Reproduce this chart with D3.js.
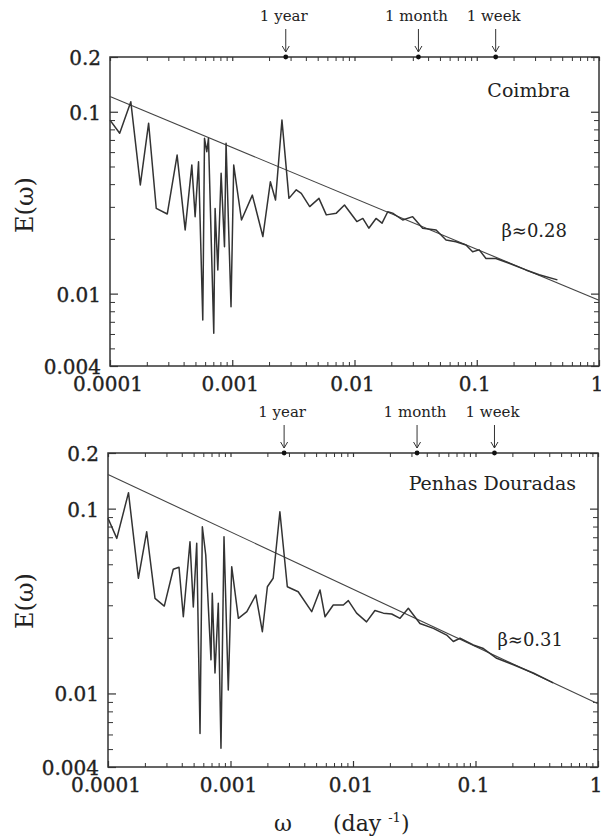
<!DOCTYPE html>
<html>
<head>
<meta charset="utf-8">
<script src="https://cdn.jsdelivr.net/npm/d3@7"></script>
<style>
  body { margin: 0; background: #fff; }
  svg { display: block; }
  text { font-family: "DejaVu Serif", "Liberation Serif", serif; fill: #222; }
  text.xlab, text.ylab { stroke: #222; stroke-width: 0.35; }
</style>
</head>
<body>
<script>
// spectra, E(omega) vs omega (day^-1)
const freqCoimbra = [0.0001, 0.000120, 0.000148, 0.000177, 0.000207, 0.000239, 0.000294, 0.000354, 0.000412, 0.000467,
  0.000497, 0.000530, 0.000574, 0.000593, 0.000619, 0.000639, 0.000706, 0.000724, 0.000762, 0.000811,
  0.000864, 0.000890, 0.000977, 0.001028, 0.00119, 0.00146, 0.00178, 0.00205, 0.00226, 0.00255,
  0.00291, 0.00334, 0.00367, 0.00430, 0.00512, 0.00588, 0.00710, 0.00828, 0.01045, 0.0117,
  0.0131, 0.0150, 0.0168, 0.0187, 0.0205, 0.0248, 0.0299, 0.0361, 0.0465, 0.0561,
  0.0676, 0.0817, 0.0925, 0.1047, 0.119, 0.1435, 0.184, 0.252, 0.324, 0.457];
const energyCoimbra = [0.090, 0.0762, 0.1135, 0.0396, 0.0865, 0.0294, 0.0274, 0.0578, 0.0224, 0.0509,
  0.0265, 0.0531, 0.00716, 0.0714, 0.0603, 0.0714, 0.00605, 0.0294, 0.0135, 0.0459,
  0.0181, 0.0671, 0.00848, 0.0509, 0.0254, 0.0348, 0.0206, 0.0412, 0.0327, 0.090,
  0.0334, 0.0372, 0.0356, 0.0301, 0.0334, 0.0271, 0.0277, 0.0307, 0.0249, 0.0259,
  0.0229, 0.0259, 0.0244, 0.0282, 0.0277, 0.0254, 0.0265, 0.0229, 0.0224, 0.0197,
  0.0193, 0.0185, 0.0170, 0.0174, 0.0156, 0.0156, 0.0147, 0.0135, 0.0127, 0.0119];

const freqPenhas = [0.0001, 0.000118, 0.000147, 0.000177, 0.000207, 0.000242, 0.000288, 0.000341, 0.000380, 0.000412,
  0.000467, 0.000497, 0.000530, 0.000564, 0.000589, 0.000628, 0.000693, 0.000710, 0.000747, 0.000795,
  0.000836, 0.000885, 0.000959, 0.001023, 0.00116, 0.00136, 0.00161, 0.00182, 0.00200, 0.00223,
  0.00253, 0.00291, 0.00357, 0.00460, 0.00538, 0.00591, 0.00690, 0.00834, 0.00916, 0.0107,
  0.0129, 0.0151, 0.0177, 0.0207, 0.0242, 0.0283, 0.0352, 0.0453, 0.0582, 0.0659,
  0.0747, 0.0959, 0.116, 0.149, 0.204, 0.296, 0.431];
const energyPenhas = [0.0887, 0.0690, 0.122, 0.0420, 0.0750, 0.0327, 0.0297, 0.0470, 0.0482, 0.0260,
  0.0662, 0.0294, 0.0649, 0.00608, 0.0798, 0.0561, 0.0152, 0.0348, 0.0129, 0.0308,
  0.00505, 0.0705, 0.01044, 0.0485, 0.0255, 0.0277, 0.0341, 0.0216, 0.0378, 0.0420,
  0.0962, 0.0378, 0.0355, 0.0277, 0.0363, 0.0260, 0.0301, 0.0301, 0.0318, 0.0272,
  0.0244, 0.0281, 0.0272, 0.0269, 0.0255, 0.0289, 0.0239, 0.0225, 0.0207, 0.0191,
  0.0199, 0.0183, 0.0175, 0.0155, 0.0143, 0.0129, 0.0114];

// power-law fits E = c * omega^-beta
const stationNames = ['Coimbra', 'Penhas Douradas'];
const betaValues = [0.28, 0.31];
const fitCoefs = [0.0092, 0.0088];

const xMajorTicks = [0.0001, 0.001, 0.01, 0.1, 1];
const xTickLabels = ['0.0001', '0.001', '0.01', '0.1', '1'];
const yMajorTicks = [0.004, 0.01, 0.1, 0.2];
const yTickLabels = ['0.004', '0.01', '0.1', '0.2'];

const periodLabels = ['1 year', '1 month', '1 week'];
const periodFreqs = [1 / 365, 1 / 30, 1 / 7];

const W = 601, H = 839;
const panels = [
    { top: 57, bottom: 366, left: 110, right: 599, freq: freqCoimbra, energy: energyCoimbra,
      nameX: 570, nameY: 97, betaX: 567, betaY: 237, eLabelY: 205 },
    { top: 453, bottom: 767, left: 108, right: 598, freq: freqPenhas, energy: energyPenhas,
      nameX: 576, nameY: 490, betaX: 563, betaY: 646, eLabelY: 601 }
];

const svg = d3.select('body').append('svg')
    .attr('width', W)
    .attr('height', H);

svg.append('rect').attr('width', W).attr('height', H).attr('fill', '#fff');

const isMajor = (v, majors) => majors.some(m => Math.abs(m - v) / m < 1e-6);

panels.forEach((p, i) => {
    const x = d3.scaleLog().domain([0.0001, 1]).range([p.left, p.right]);
    const y = d3.scaleLog().domain([0.004, 0.2]).range([p.bottom, p.top]);
    const g = svg.append('g').classed('panel', true);

    const xTicks = x.ticks();
    const yTicks = y.ticks();

    const styleAxis = (sel, majors) => {
        sel.select('.domain').remove();
        sel.selectAll('.tick line')
            .attr('stroke', '#333')
            .attr('stroke-width', 1);
        sel.selectAll('.tick text').remove();
        sel.selectAll('.tick')
            .filter(d => isMajor(d, majors))
            .select('line')
            .attr('stroke-width', 1.2);
    };

    // inward ticks on all four sides
    const bottomAxis = g.append('g')
        .attr('transform', `translate(0,${p.bottom})`)
        .call(d3.axisBottom(x).tickValues(xTicks).tickSize(-4));
    styleAxis(bottomAxis, xMajorTicks);
    bottomAxis.selectAll('.tick').filter(d => isMajor(d, xMajorTicks)).select('line').attr('y2', -6);

    const topAxis = g.append('g')
        .attr('transform', `translate(0,${p.top})`)
        .call(d3.axisTop(x).tickValues(xTicks).tickSize(-4));
    styleAxis(topAxis, xMajorTicks);

    const leftAxis = g.append('g')
        .attr('transform', `translate(${p.left},0)`)
        .call(d3.axisLeft(y).tickValues(yTicks).tickSize(-5));
    styleAxis(leftAxis, yMajorTicks);
    leftAxis.selectAll('.tick').filter(d => isMajor(d, yMajorTicks)).select('line').attr('x2', 8);

    const rightAxis = g.append('g')
        .attr('transform', `translate(${p.right},0)`)
        .call(d3.axisRight(y).tickValues(yTicks).tickSize(-5));
    styleAxis(rightAxis, yMajorTicks);
    rightAxis.selectAll('.tick').filter(d => isMajor(d, yMajorTicks)).select('line').attr('x2', -8);

    // frame
    g.append('rect')
        .attr('x', p.left)
        .attr('y', p.top)
        .attr('width', p.right - p.left)
        .attr('height', p.bottom - p.top)
        .attr('fill', 'none')
        .attr('stroke', '#333')
        .attr('stroke-width', 1.5);

    // tick labels
    g.selectAll('text.xlab')
        .data(xMajorTicks)
        .enter()
        .append('text')
        .classed('xlab', true)
        .attr('x', d => x(d) - 2)
        .attr('y', p.bottom + 25)
        .attr('text-anchor', 'middle')
        .attr('font-size', 20)
        .text((d, k) => xTickLabels[k]);

    g.selectAll('text.ylab')
        .data(yMajorTicks)
        .enter()
        .append('text')
        .classed('ylab', true)
        .attr('x', p.left - 9)
        .attr('y', d => y(d) + 8)
        .attr('text-anchor', 'end')
        .attr('font-size', 20)
        .text((d, k) => yTickLabels[k]);

    // fit line
    const fitEnds = x.domain().map(w => [w, fitCoefs[i] * Math.pow(w, -betaValues[i])]);
    g.append('path')
        .datum(fitEnds)
        .attr('d', d3.line().x(d => x(d[0])).y(d => y(d[1])))
        .attr('fill', 'none')
        .attr('stroke', '#444')
        .attr('stroke-width', 1.1);

    // spectrum
    const pts = p.freq.map((f, k) => [f, p.energy[k]]);
    g.append('path')
        .datum(pts)
        .attr('d', d3.line().x(d => x(d[0])).y(d => y(d[1])))
        .attr('fill', 'none')
        .attr('stroke', '#333')
        .attr('stroke-width', 1.5)
        .attr('stroke-linejoin', 'round');

    // period markers above the top axis
    const marks = g.selectAll('g.mark')
        .data(periodFreqs)
        .enter()
        .append('g')
        .classed('mark', true)
        .attr('transform', d => `translate(${x(d)},${p.top})`);
    marks.append('text')
        .attr('x', -2)
        .attr('y', -36)
        .attr('text-anchor', 'middle')
        .attr('font-size', 15)
        .text((d, k) => periodLabels[k]);
    marks.append('line')
        .attr('y1', -28)
        .attr('y2', -5)
        .attr('stroke', '#333')
        .attr('stroke-width', 1);
    marks.append('path')
        .attr('d', 'M-3.5,-11L0,-5L3.5,-11')
        .attr('fill', 'none')
        .attr('stroke', '#333')
        .attr('stroke-width', 1);
    marks.append('circle')
        .attr('r', 2.4)
        .attr('fill', '#111');

    g.append('text')
        .attr('x', p.nameX)
        .attr('y', p.nameY)
        .attr('text-anchor', 'end')
        .attr('font-size', 19)
        .text(stationNames[i]);

    g.append('text')
        .attr('x', p.betaX)
        .attr('y', p.betaY)
        .attr('text-anchor', 'end')
        .attr('font-size', 18)
        .text(`β≈${betaValues[i].toFixed(2)}`);

    g.append('text')
        .attr('transform', `translate(33,${p.eLabelY}) rotate(-90)`)
        .attr('text-anchor', 'middle')
        .attr('font-size', 24)
        .text('E(ω)');
});

// x-axis title
const xTitle = svg.append('text')
    .attr('y', 831)
    .attr('font-size', 22);
xTitle.append('tspan').attr('x', 274).text('ω');
xTitle.append('tspan').attr('x', 333).text('(day ');
xTitle.append('tspan').attr('dy', -9).attr('font-size', 13).text('-1');
xTitle.append('tspan').attr('dy', 9).text(')');
</script>
</body>
</html>
